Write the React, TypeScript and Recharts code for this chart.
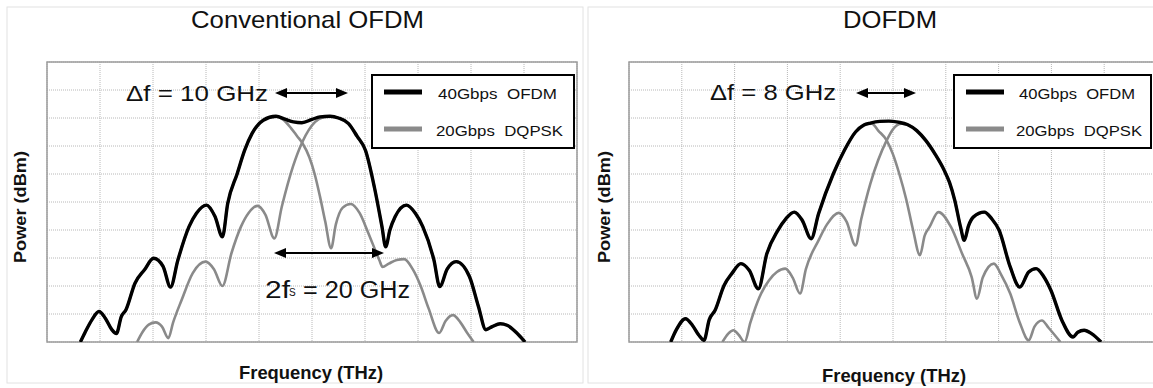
import React from 'react';
import { LineChart, Line, XAxis, YAxis, CartesianGrid, ReferenceArea } from 'recharts';

// x and y are in grid units (the plots have 10 x 10 unlabelled grid cells)
const GRID_TICKS = [0, 1, 2, 3, 4, 5, 6, 7, 8, 9, 10];

// ---------- Conventional OFDM ----------
const convOfdm: number[][] = [
  [0.63, 0], [0.72, 0.35], [0.85, 0.8], [0.98, 1.09], [1.1, 0.85], [1.22, 0.45], [1.31, 0.3],
  [1.4, 0.9], [1.49, 1.15], [1.66, 2.1], [1.84, 2.58], [2.01, 2.99], [2.19, 2.7], [2.33, 1.96],
  [2.47, 2.93], [2.68, 4.12], [2.82, 4.6], [3.01, 4.89], [3.17, 4.48], [3.31, 3.76], [3.41, 4.95],
  [3.59, 6.02], [3.73, 6.85], [3.87, 7.45], [4.08, 7.92], [4.32, 8.06], [4.5, 7.95], [4.65, 7.86],
  [4.81, 7.83], [5.0, 7.95], [5.15, 8.04], [5.34, 8.06], [5.5, 8.0], [5.69, 7.8], [5.85, 7.35],
  [6.01, 6.84], [6.18, 5.5], [6.32, 4.12], [6.39, 3.4], [6.47, 4.0], [6.57, 4.48], [6.78, 4.89],
  [6.95, 4.6], [7.09, 4.12], [7.3, 2.93], [7.41, 1.98], [7.55, 2.6], [7.72, 2.87], [7.97, 2.34],
  [8.14, 1.27], [8.28, 0.44], [8.4, 0.55], [8.55, 0.65], [8.68, 0.6], [8.85, 0.35], [9.02, 0],
];
const convDqpskA: number[][] = [
  [0.63, 0], [0.72, 0.35], [0.85, 0.8], [0.98, 1.09], [1.1, 0.85], [1.22, 0.45], [1.31, 0.3],
  [1.4, 0.9], [1.49, 1.15], [1.66, 2.1], [1.84, 2.58], [2.01, 2.99], [2.19, 2.7], [2.33, 1.96],
  [2.47, 2.93], [2.68, 4.12], [2.82, 4.6], [3.01, 4.89], [3.17, 4.48], [3.31, 3.76], [3.41, 4.95],
  [3.59, 6.02], [3.73, 6.85], [3.87, 7.45], [4.08, 7.92], [4.32, 8.06], [4.45, 7.95], [4.6, 7.65],
  [4.72, 7.35], [4.82, 7.1], [4.95, 6.6], [5.05, 6.0], [5.15, 5.2], [5.25, 4.3], [5.36, 3.35],
  [5.45, 4.2], [5.58, 4.8], [5.73, 4.93], [5.9, 4.6], [6.05, 3.95], [6.27, 2.93], [6.33, 2.68],
  [6.45, 2.8], [6.6, 2.93], [6.74, 2.96], [6.9, 2.6], [7.05, 2.0], [7.2, 1.2], [7.4, 0.32],
  [7.52, 0.75], [7.66, 0.96], [7.8, 0.7], [7.92, 0.35], [8.05, 0],
];
const convDqpskB: number[][] = [
  [1.7, 0], [1.8, 0.35], [1.92, 0.62], [2.05, 0.7], [2.17, 0.55], [2.29, 0.14], [2.38, 0.7],
  [2.54, 1.5], [2.75, 2.46], [2.99, 2.87], [3.15, 2.6], [3.31, 2.0], [3.48, 3.17], [3.66, 4.12],
  [3.8, 4.6], [3.97, 4.86], [4.12, 4.55], [4.29, 3.7], [4.43, 4.83], [4.64, 6.26], [4.82, 7.15],
  [5.06, 7.86], [5.2, 8.02], [5.34, 8.06], [5.5, 8.0], [5.69, 7.8], [5.85, 7.35], [6.01, 6.84],
  [6.18, 5.5], [6.32, 4.12], [6.39, 3.4], [6.47, 4.0], [6.57, 4.48], [6.78, 4.89], [6.95, 4.6],
  [7.09, 4.12], [7.3, 2.93], [7.41, 1.98], [7.55, 2.6], [7.72, 2.87], [7.97, 2.34], [8.14, 1.27],
  [8.28, 0.44], [8.4, 0.55], [8.55, 0.65], [8.68, 0.6], [8.85, 0.35], [9.02, 0],
];

// ---------- DOFDM ----------
const dOfdm: number[][] = [
  [0.79, 0], [0.9, 0.45], [1.07, 0.83], [1.2, 0.6], [1.32, 0.25], [1.42, 0.06], [1.52, 0.8],
  [1.63, 1.13], [1.8, 2.02], [1.95, 2.45], [2.12, 2.8], [2.28, 2.55], [2.45, 1.9], [2.61, 3.15],
  [2.82, 3.99], [2.97, 4.4], [3.13, 4.64], [3.28, 4.35], [3.45, 3.69], [3.59, 4.58], [3.87, 6.01],
  [4.08, 6.85], [4.29, 7.5], [4.45, 7.75], [4.57, 7.82], [4.75, 7.88], [4.92, 7.89], [5.1, 7.85],
  [5.27, 7.77], [5.45, 7.55], [5.62, 7.2], [5.8, 6.7], [5.97, 6.13], [6.07, 5.7], [6.17, 5.06],
  [6.28, 4.1], [6.35, 3.63], [6.43, 4.15], [6.52, 4.46], [6.73, 4.64], [6.87, 4.4], [7.01, 3.99],
  [7.22, 2.68], [7.4, 1.96], [7.57, 2.5], [7.71, 2.62], [7.85, 2.35], [7.99, 1.85], [8.2, 0.77],
  [8.41, 0.18], [8.5, 0.35], [8.62, 0.42], [8.76, 0.3], [8.94, 0],
];
const dDqpskA: number[][] = [
  [0.79, 0], [0.9, 0.45], [1.07, 0.83], [1.2, 0.6], [1.32, 0.25], [1.42, 0.06], [1.52, 0.8],
  [1.63, 1.13], [1.8, 2.02], [1.95, 2.45], [2.12, 2.8], [2.28, 2.55], [2.45, 1.9], [2.61, 3.15],
  [2.82, 3.99], [2.97, 4.4], [3.13, 4.64], [3.28, 4.35], [3.45, 3.69], [3.59, 4.58], [3.87, 6.01],
  [4.08, 6.85], [4.29, 7.5], [4.45, 7.75], [4.6, 7.8], [4.72, 7.55], [4.88, 7.2], [5.0, 6.7],
  [5.12, 6.0], [5.25, 5.1], [5.38, 4.0], [5.51, 3.1], [5.6, 3.8], [5.69, 4.1], [5.86, 4.64],
  [6.1, 4.1], [6.31, 3.15], [6.49, 2.32], [6.59, 1.55], [6.7, 2.3], [6.91, 2.8], [7.05, 2.4],
  [7.22, 1.73], [7.4, 0.7], [7.57, 0.06], [7.68, 0.55], [7.82, 0.77], [7.95, 0.5], [8.17, 0],
];
const dDqpskB: number[][] = [
  [1.77, 0], [1.88, 0.3], [1.98, 0.42], [2.08, 0.25], [2.19, 0], [2.3, 0.7], [2.47, 1.6],
  [2.65, 2.2], [2.8, 2.5], [2.96, 2.62], [3.1, 2.3], [3.24, 1.73], [3.35, 2.6], [3.59, 3.63],
  [3.75, 4.2], [3.97, 4.61], [4.12, 4.3], [4.29, 3.45], [4.4, 4.4], [4.57, 5.65], [4.72, 6.5],
  [4.88, 7.2], [5.0, 7.6], [5.16, 7.8], [5.27, 7.77], [5.45, 7.55], [5.62, 7.2], [5.8, 6.7],
  [5.97, 6.13], [6.07, 5.7], [6.17, 5.06], [6.28, 4.1], [6.35, 3.63], [6.43, 4.15], [6.52, 4.46],
  [6.73, 4.64], [6.87, 4.4], [7.01, 3.99], [7.22, 2.68], [7.4, 1.96], [7.57, 2.5], [7.71, 2.62],
  [7.85, 2.35], [7.99, 1.85], [8.2, 0.77], [8.41, 0.18], [8.5, 0.35], [8.62, 0.42], [8.76, 0.3],
  [8.94, 0],
];

const TITLES = ['Conventional OFDM', 'DOFDM'];
const LEGEND = ['40Gbps  OFDM', '20Gbps  DQPSK'];
const Y_LABEL = 'Power (dBm)';
const X_LABEL = 'Frequency (THz)';

const toPts = (a: number[][]) => a.map(([x, y]) => ({ x, y }));

const FONT = '"Liberation Sans", Arial, Helvetica, sans-serif';
const GRAY = '#8a8a8a';

function Panel(props: {
  left: number; width: number; ml: number; mr: number;
  ofdm: number[][]; a: number[][]; b: number[][];
}) {
  const { left, width, ml, mr, ofdm, a, b } = props;
  return (
    <div style={{ position: 'absolute', left, top: 0 }}>
      <LineChart width={width} height={388} margin={{ top: 62, bottom: 46, left: ml, right: mr }}>
        <CartesianGrid stroke="#b8b8b8" strokeDasharray="1 1" strokeWidth={1} />
        <XAxis type="number" dataKey="x" domain={[0, 10]} ticks={GRID_TICKS} hide allowDataOverflow />
        <YAxis type="number" dataKey="y" domain={[0, 10]} ticks={GRID_TICKS} hide allowDataOverflow />
        <ReferenceArea x1={0} x2={10} y1={0} y2={10} fill="none" fillOpacity={0} stroke="#9c9c9c" strokeWidth={1.5} />
        <Line data={toPts(a)} dataKey="y" type="monotone" stroke={GRAY} strokeWidth={2.6} dot={false} isAnimationActive={false} />
        <Line data={toPts(b)} dataKey="y" type="monotone" stroke={GRAY} strokeWidth={2.6} dot={false} isAnimationActive={false} />
        <Line data={toPts(ofdm)} dataKey="y" type="monotone" stroke="#000" strokeWidth={3.4} dot={false} isAnimationActive={false} />
      </LineChart>
    </div>
  );
}

function DArrow({ x1, x2, y }: { x1: number; x2: number; y: number }) {
  const L = 12, H = 5;
  return (
    <g>
      <line x1={x1 + 4} x2={x2 - 4} y1={y} y2={y} stroke="#000" strokeWidth={2} />
      <polygon points={`${x1},${y} ${x1 + L},${y - H} ${x1 + L},${y + H}`} fill="#000" />
      <polygon points={`${x2},${y} ${x2 - L},${y - H} ${x2 - L},${y + H}`} fill="#000" />
    </g>
  );
}

function Legend({ x, y, w, t1, t2 }: { x: number; y: number; w: number; t1: [number, number]; t2: [number, number] }) {
  return (
    <g>
      <rect x={x} y={y} width={w} height={73} fill="#fff" stroke="#000" strokeWidth={2} />
      <line x1={x + 12} x2={x + 50} y1={y + 17} y2={y + 17} stroke="#000" strokeWidth={5} />
      <line x1={x + 12} x2={x + 50} y1={y + 54} y2={y + 54} stroke={GRAY} strokeWidth={5} />
      <text x={t1[0]} y={y + 24} fontSize={15} textLength={t1[1]} lengthAdjust="spacingAndGlyphs" style={{ whiteSpace: 'pre' }} fill="#111">{LEGEND[0]}</text>
      <text x={t2[0]} y={y + 61} fontSize={15} textLength={t2[1]} lengthAdjust="spacingAndGlyphs" style={{ whiteSpace: 'pre' }} fill="#111">{LEGEND[1]}</text>
    </g>
  );
}

export default function App() {
  return (
    <div style={{ position: 'absolute', left: 0, top: 0, width: 1153, height: 388, overflow: 'hidden', background: '#fff', fontFamily: FONT }}>
      <svg width={1153} height={388} style={{ position: 'absolute', left: 0, top: 0 }}>
        <rect x={7} y={7} width={576} height={376} fill="none" stroke="#e2e2e2" strokeWidth={1} />
        <rect x={588} y={7} width={580} height={376} fill="none" stroke="#e2e2e2" strokeWidth={1} />
      </svg>
      <Panel left={0} width={590} ml={47} mr={13} ofdm={convOfdm} a={convDqpskA} b={convDqpskB} />
      <Panel left={575} width={590} ml={54} mr={8} ofdm={dOfdm} a={dDqpskA} b={dDqpskB} />
      <svg width={1153} height={388} style={{ position: 'absolute', left: 0, top: 0, pointerEvents: 'none', fontFamily: FONT }}>
        <text x={191} y={27.5} fontSize={24} textLength={233} lengthAdjust="spacingAndGlyphs" fill="#111">{TITLES[0]}</text>
        <text x={843} y={28} fontSize={24} textLength={94} lengthAdjust="spacingAndGlyphs" fill="#111">{TITLES[1]}</text>

        <text x={26} y={207} fontSize={17} fontWeight="bold" textAnchor="middle" textLength={112} lengthAdjust="spacingAndGlyphs" transform="rotate(-90 26 207)" fill="#111">{Y_LABEL}</text>
        <text x={610} y={207} fontSize={17} fontWeight="bold" textAnchor="middle" textLength={112} lengthAdjust="spacingAndGlyphs" transform="rotate(-90 610 207)" fill="#111">{Y_LABEL}</text>
        <text x={239} y={379} fontSize={18} fontWeight="bold" textLength={144} lengthAdjust="spacingAndGlyphs" fill="#111">{X_LABEL}</text>
        <text x={822} y={382} fontSize={18} fontWeight="bold" textLength={144} lengthAdjust="spacingAndGlyphs" fill="#111">{X_LABEL}</text>

        <text x={126} y={100.5} fontSize={22} textLength={142} lengthAdjust="spacingAndGlyphs" fill="#111">Δf = 10 GHz</text>
        <DArrow x1={275} x2={348} y={93} />
        <text x={710} y={100} fontSize={22} textLength={126} lengthAdjust="spacingAndGlyphs" fill="#111">Δf = 8 GHz</text>
        <DArrow x1={856} x2={916} y={93} />

        <DArrow x1={274} x2={384} y={253} />
        <text x={265} y={298} fontSize={23} textLength={25} lengthAdjust="spacingAndGlyphs" fill="#111">2f</text>
        <text x={289} y={296} fontSize={10} fill="#111">S</text>
        <text x={303} y={298} fontSize={23} textLength={107} lengthAdjust="spacingAndGlyphs" style={{ whiteSpace: 'pre' }} fill="#111">= 20 GHz</text>

        <Legend x={372} y={75} w={202} t1={[438, 119]} t2={[436, 127]} />
        <Legend x={954} y={75} w={197} t1={[1019, 116]} t2={[1016, 126]} />
      </svg>
    </div>
  );
}
